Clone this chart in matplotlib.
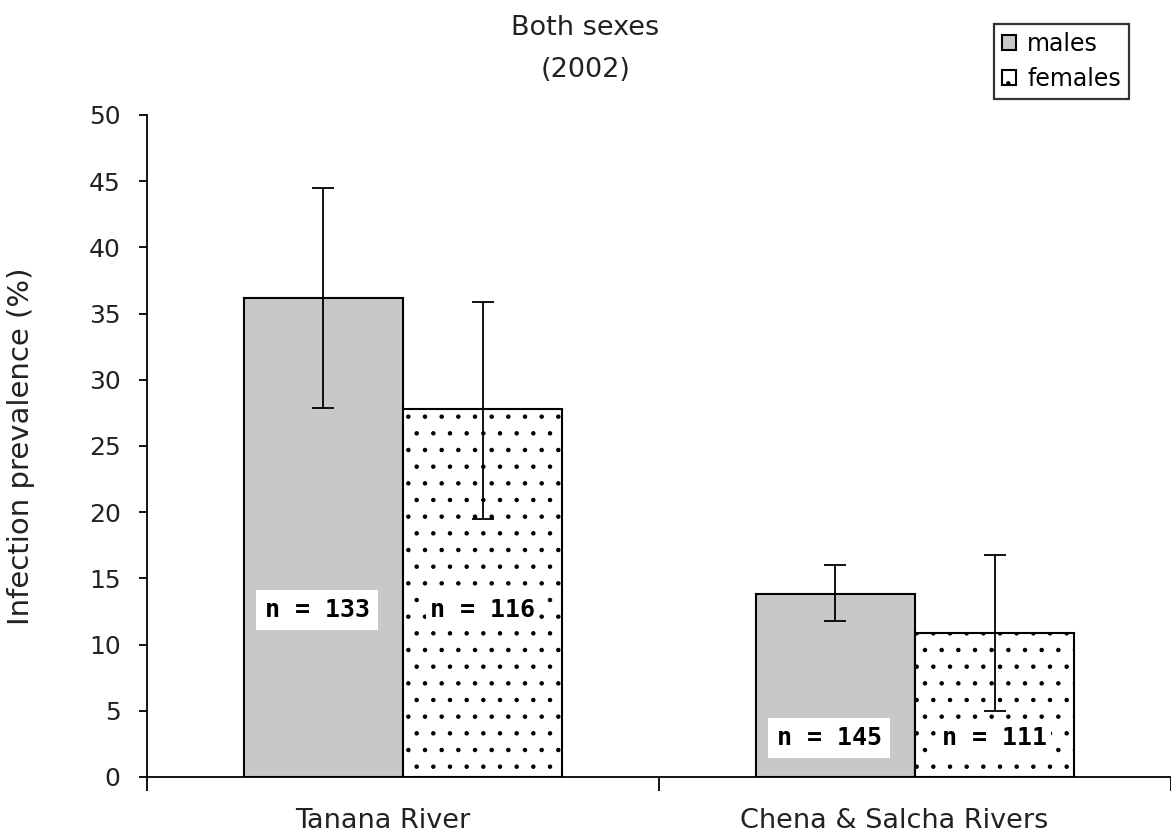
import matplotlib.pyplot as plt
import numpy as np

# data
rivers = ['Tanana River', 'Chena & Salcha Rivers']
males = [36.2, 13.8]
males_lo = [27.9, 11.8]
males_hi = [44.5, 16.0]
females = [27.8, 10.9]
females_lo = [19.5, 5.0]
females_hi = [35.9, 16.8]
n_males = [133, 145]
n_females = [116, 111]
label_y = [12.6, 2.95]

plt.rcParams['font.family'] = ['DejaVu Sans']
plt.rcParams['hatch.linewidth'] = 0.8

fig = plt.figure(figsize=(11.71, 8.38), dpi=100)
ax = fig.add_axes([0.1255, 0.0728, 0.8745, 0.79])

x = np.arange(len(rivers))
w = 0.311

m_err = [np.array(males) - np.array(males_lo), np.array(males_hi) - np.array(males)]
f_err = [np.array(females) - np.array(females_lo), np.array(females_hi) - np.array(females)]

ekw = dict(ecolor='black', elinewidth=1.3, capsize=8, capthick=1.3)
ax.bar(x - w / 2, males, w, color='#c8c8c8', edgecolor='black', linewidth=1.5, label='males',
       yerr=m_err, error_kw=ekw)
ax.bar(x + w / 2, females, w, color='white', edgecolor='black', linewidth=1.5, hatch='.',
       label='females', yerr=f_err, error_kw=ekw)

for i in range(len(rivers)):
    ax.text(x[i] - w / 2 - 0.012, label_y[i], 'n = %d' % n_males[i], ha='center', va='center',
            fontsize=18, fontweight='bold', family='DejaVu Sans Mono',
            bbox=dict(facecolor='white', edgecolor='none', pad=6))
    ax.text(x[i] + w / 2, label_y[i], 'n = %d' % n_females[i], ha='center', va='center',
            fontsize=18, fontweight='bold', family='DejaVu Sans Mono',
            bbox=dict(facecolor='white', edgecolor='none', pad=3))

ax.set_xlim(-0.5, 1.5)
ax.set_ylim(0, 50)
ax.set_yticks(np.arange(0, 51, 5))
ax.set_xticks([-0.5, 0.5, 1.5])
ax.set_xticklabels(['', '', ''])
# category labels sit a little left of the bar pairs in the original
ax.set_xticks(x - 0.04, minor=True)
ax.set_xticklabels(rivers, minor=True, fontsize=19.5, color='#222222')
ax.tick_params(axis='x', which='minor', length=0, pad=22)
ax.tick_params(axis='x', which='major', length=10, width=1.3, direction='out')
ax.tick_params(axis='y', length=6, width=1.3, direction='out', labelsize=18, pad=13,
               labelcolor='#222222')

for s in ['top', 'right']:
    ax.spines[s].set_visible(False)
for s in ['left', 'bottom']:
    ax.spines[s].set_linewidth(1.3)

ax.set_ylabel('Infection prevalence (%)', fontsize=21, color='#222222', va='center')
ax.yaxis.set_label_coords(-0.123, 0.5)

fig.text(0.5, 0.966, 'Both sexes', ha='center', va='center', fontsize=19.5, color='#222222')
fig.text(0.5, 0.917, '(2002)', ha='center', va='center', fontsize=19.5, color='#222222')

leg = ax.legend(loc='upper right', bbox_to_anchor=(0.959, 1.1375), borderaxespad=0,
                fontsize=17, frameon=True, fancybox=False, edgecolor='black',
                handlelength=0.6, handleheight=0.6, handletextpad=0.45, borderpad=0.35,
                labelspacing=0.45)
leg.get_frame().set_linewidth(1.6)

fig.savefig('out.png', dpi=100)
